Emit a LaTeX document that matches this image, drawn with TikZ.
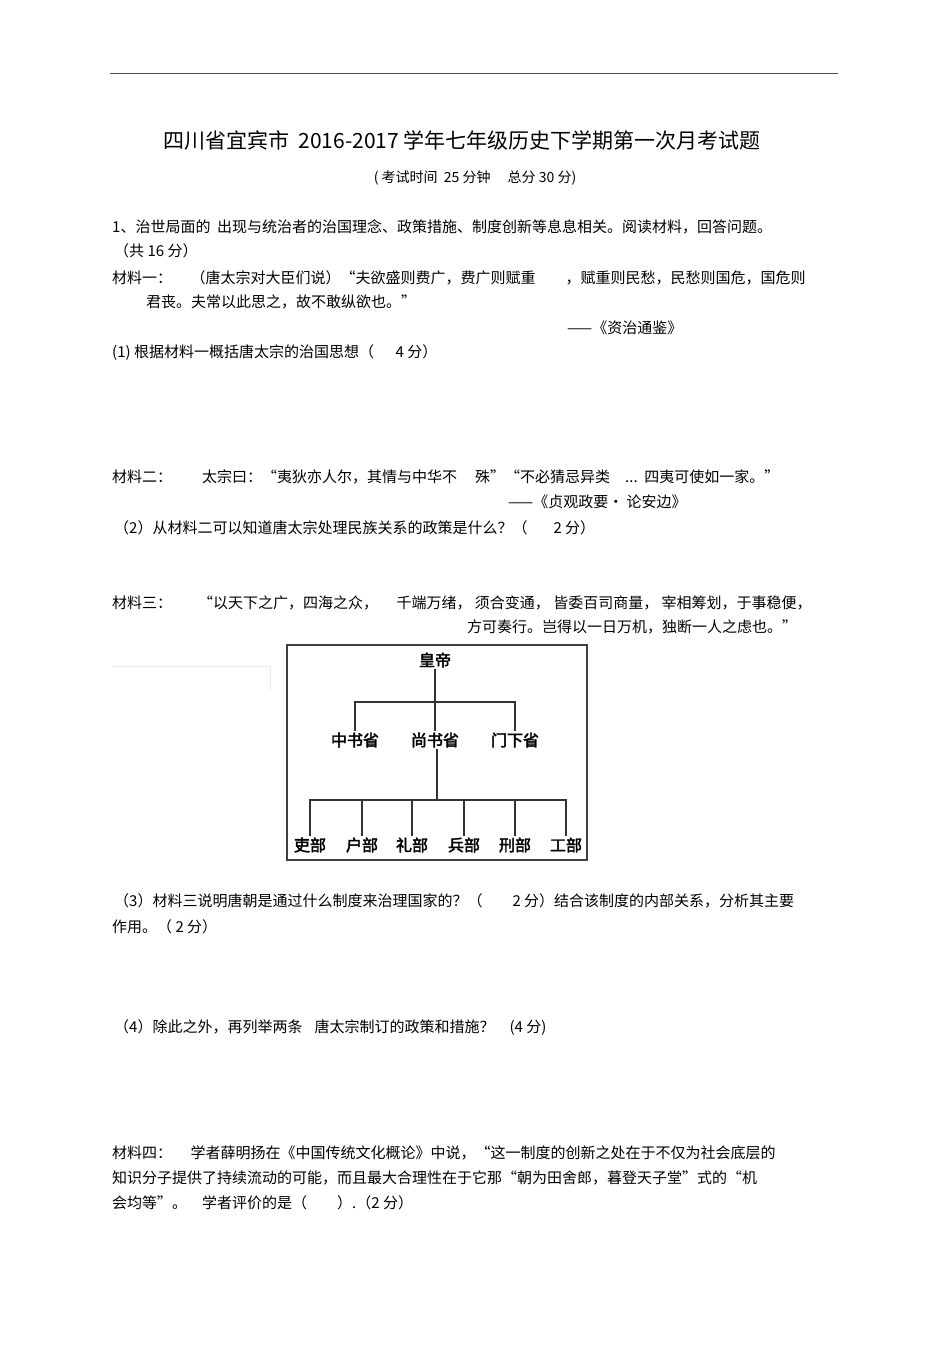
\documentclass[tikz,border=0pt]{standalone}
\usepackage{fontspec}
\setmainfont{Noto Sans CJK SC}
\newfontfamily\cjkb[FakeBold=2.5]{Noto Sans CJK SC}
\begin{document}
\begin{tikzpicture}[x=1pt,y=-1pt,
  t/.style={anchor=west,inner sep=0pt,font=\fontsize{15}{17}\selectfont},
  org/.style={inner sep=1pt,font=\fontsize{16}{18}\selectfont\cjkb},
  ln/.style={line width=1.3pt,draw=black!80}]
\useasboundingbox (0,0) rectangle (950,1345);
\draw[black!70,line width=0.8pt] (110,73) -- (838,73);
\node[anchor=center,inner sep=0pt,font=\fontsize{21}{23}\selectfont] (title) at (462,141) {四川省宜宾市\ \ 2016-2017 学年七年级历史下学期第一次月考试题};
\node[anchor=center,inner sep=0pt,font=\fontsize{14}{16}\selectfont] (sub) at (475,178) {(\ 考试时间\ \ 25 分钟\quad\ 总分\ 30 分)};
\node[t] (l1) at (112,227) {1、治世局面的\ \ 出现与统治者的治国理念、政策措施、制度创新等息息相关。阅读材料，回答问题。};
\node[t] (l2) at (114,251) {（共\ 16 分）};
\node[t] (l3) at (112,278) {材料一：\quad\ （唐太宗对大臣们说）“夫欲盛则费广，费广则赋重\hspace{30pt}，赋重则民愁，民愁则国危，国危则};
\node[t] (l4) at (146,302) {君丧。夫常以此思之，故不敢纵欲也。”};
\node[t] (l5) at (567,328) {——《资治通鉴》};
\node[t] (l6) at (112,353) {(1)\ 根据材料一概括唐太宗的治国思想（\quad\ \ 4 分）};
\node[t] (l7) at (112,477) {材料二：\qquad 太宗曰：“夷狄亦人尔，其情与中华不\hspace{18pt}殊”“不必猜忌异类\quad ...\ \ 四夷可使如一家。”};
\node[t] (l8) at (508,502) {——《贞观政要·\ 论安边》};
\node[t] (l9) at (114,528) {（2）从材料二可以知道唐太宗处理民族关系的政策是什么？（\hspace{26pt}2 分）};
\node[t] (l10) at (112,603) {材料三：\hspace{26pt}“以天下之广，四海之众，\quad\ 千端万绪，\ 须合变通，\ 皆委百司商量，\ 宰相筹划，于事稳便，};
\node[t] (l11) at (467,627) {方可奏行。岂得以一日万机，独断一人之虑也。”};
\draw[black!8,line width=1pt] (112,666) -- (270,666) (270,666) -- (270,690);
\draw[line width=1.5pt,draw=black!75] (287,645) rectangle (587,860);
\node[org] (hd) at (435,660) {皇帝};
\node[org] (zs) at (355,740) {中书省};
\node[org] (ss) at (435,740) {尚书省};
\node[org] (mx) at (515,740) {门下省};
\node[org] (b1) at (310,845) {吏部};
\node[org] (b2) at (362,845) {户部};
\node[org] (b3) at (412,845) {礼部};
\node[org] (b4) at (464,845) {兵部};
\node[org] (b5) at (515,845) {刑部};
\node[org] (b6) at (566,845) {工部};
\coordinate (j1) at (435,702);
\coordinate (j2) at (437,800);
\draw[ln] (j1 |- hd.south) -- (j1) -- (j1 |- zs.north);
\draw[ln] (zs.north) |- (j1) -| (mx.north);
\draw[ln] (j2 |- ss.south) -- (j2);
\draw[ln] (b1.north) |- (j2) -| (b6.north);
\foreach \b in {b2,b3,b4,b5} \draw[ln] (\b.north) -- (\b.north |- j2);
\node[t] (l12) at (114,901) {（3）材料三说明唐朝是通过什么制度来治理国家的？（\hspace{30pt}2 分）结合该制度的内部关系，分析其主要};
\node[t] (l13) at (112,927) {作用。（\ 2 分）};
\node[t] (l14) at (114,1028) {（4）除此之外，再列举两条\hspace{12pt}唐太宗制订的政策和措施？\quad (4\ 分)};
\node[t] (l15) at (112,1153) {材料四：\quad\ 学者薛明扬在《中国传统文化概论》中说，“这一制度的创新之处在于不仅为社会底层的};
\node[t] (l16) at (112,1178) {知识分子提供了持续流动的可能，而且最大合理性在于它那“朝为田舍郎，暮登天子堂”式的“机};
\node[t] (l17) at (112,1203) {会均等”。\quad 学者评价的是（\hspace{30pt}）.（2 分）};
\end{tikzpicture}
\end{document}
